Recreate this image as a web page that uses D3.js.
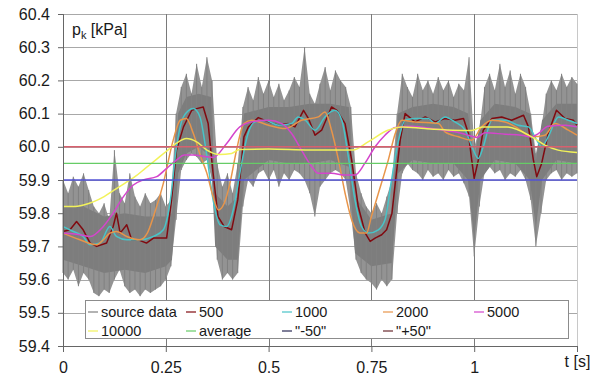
<!DOCTYPE html>
<html>
<head>
<meta charset="utf-8">
<script src="https://cdn.jsdelivr.net/npm/d3@7/dist/d3.min.js"></script>
<style>
  body { margin: 0; background: #fff; }
  text { font-family: Arial, "Liberation Sans", sans-serif; fill: #1a1a1a; }
</style>
</head>
<body>
<svg id="chart" width="603" height="383"></svg>
<script>
// source data: spike extremes, sampled every 0.0125 s
const tSource = d3.range(0, 101).map(i => i * 0.0125);
const srcHigh = [
  59.90, 59.86, 59.91, 59.88, 59.92, 59.87, 59.82, 59.80, 59.83, 59.78,
  59.99, 59.86, 59.83, 59.92, 59.85, 59.82, 59.86, 59.83, 59.84, 59.86,
  59.82, 59.84, 60.10, 60.18, 60.22, 60.16, 60.25, 60.18, 60.27, 60.20,
  59.95, 59.88, 59.92, 59.86, 59.95, 60.12, 60.18, 60.14, 60.21, 60.16,
  60.20, 60.15, 60.19, 60.14, 60.17, 60.21, 60.18, 60.30, 60.16, 60.13,
  60.19, 60.24, 60.17, 60.23, 60.20, 60.18, 60.12, 59.92, 59.86, 59.82,
  59.80, 59.83, 59.80, 59.85, 59.90, 60.10, 60.22, 60.18, 60.15, 60.22,
  60.17, 60.20, 60.16, 60.21, 60.17, 60.20, 60.15, 60.19, 60.17, 60.27,
  60.00, 60.05, 60.18, 60.22, 60.17, 60.25, 60.18, 60.23, 60.16, 60.22,
  60.18, 60.10, 59.98, 60.05, 60.16, 60.20, 60.17, 60.22, 60.18, 60.21, 60.19
];
const srcLow = [
  59.62, 59.60, 59.63, 59.58, 59.62, 59.60, 59.56, 59.55, 59.57, 59.56,
  59.60, 59.63, 59.58, 59.56, 59.57, 59.55, 59.57, 59.56, 59.57, 59.58,
  59.60, 59.64, 59.78, 59.93, 59.96, 59.98, 59.97, 59.95, 59.96, 59.90,
  59.66, 59.60, 59.62, 59.60, 59.62, 59.82, 59.90, 59.88, 59.92, 59.93,
  59.90, 59.93, 59.88, 59.92, 59.90, 59.93, 59.92, 59.90, 59.86, 59.79,
  59.88, 59.90, 59.92, 59.93, 59.92, 59.90, 59.80, 59.66, 59.62, 59.60,
  59.59, 59.57, 59.60, 59.58, 59.60, 59.80, 59.92, 59.95, 59.93, 59.92,
  59.90, 59.93, 59.91, 59.92, 59.90, 59.93, 59.91, 59.92, 59.89, 59.85,
  59.67, 59.82, 59.92, 59.94, 59.92, 59.93, 59.90, 59.92, 59.91, 59.93,
  59.90, 59.84, 59.70, 59.80, 59.90, 59.92, 59.93, 59.90, 59.92, 59.91, 59.92
];
// source data: dense band of the noise
const tCore = [0, 0.05, 0.1, 0.15, 0.2, 0.25, 0.265, 0.28, 0.3, 0.33,
  0.36, 0.37, 0.4, 0.425, 0.44, 0.5, 0.55, 0.6, 0.65, 0.695,
  0.71, 0.75, 0.8, 0.815, 0.85, 0.9, 0.95, 0.985, 1.0, 1.015,
  1.05, 1.1, 1.135, 1.15, 1.165, 1.2, 1.25];
const coreHigh = [59.82, 59.82, 59.79, 59.80, 59.79, 59.79, 59.80, 60.10, 60.15, 60.16,
  60.15, 59.86, 59.82, 59.85, 60.10, 60.12, 60.12, 60.13, 60.13, 60.12,
  59.85, 59.78, 59.80, 60.10, 60.12, 60.13, 60.12, 60.10, 59.96, 60.08,
  60.13, 60.12, 60.10, 59.96, 60.08, 60.13, 60.13];
const coreLow = [59.66, 59.64, 59.62, 59.63, 59.62, 59.64, 59.66, 59.92, 59.98, 60.0,
  59.97, 59.70, 59.66, 59.66, 59.90, 59.96, 59.95, 59.95, 59.96, 59.94,
  59.68, 59.64, 59.65, 59.92, 59.96, 59.95, 59.95, 59.90, 59.72, 59.90,
  59.96, 59.95, 59.90, 59.76, 59.90, 59.96, 59.95];

// moving averages
const t500 = [0, 0.017, 0.033, 0.049, 0.066, 0.082, 0.106, 0.122, 0.13, 0.139,
  0.155, 0.167, 0.183, 0.203, 0.22, 0.236, 0.252, 0.264, 0.276, 0.293,
  0.313, 0.325, 0.341, 0.353, 0.365, 0.377, 0.392, 0.41, 0.425, 0.44,
  0.451, 0.475, 0.5, 0.524, 0.548, 0.564, 0.585, 0.597, 0.613, 0.629,
  0.653, 0.666, 0.686, 0.702, 0.718, 0.735, 0.747, 0.759, 0.775, 0.787,
  0.8, 0.808, 0.82, 0.832, 0.856, 0.881, 0.905, 0.929, 0.953, 0.974,
  0.986, 0.994, 1.0, 1.01, 1.022, 1.043, 1.067, 1.091, 1.12, 1.132,
  1.144, 1.152, 1.164, 1.18, 1.2, 1.221, 1.241, 1.25];
const v500 = [59.745, 59.75, 59.775, 59.75, 59.71, 59.70, 59.71, 59.76, 59.80, 59.74,
  59.765, 59.72, 59.72, 59.71, 59.725, 59.725, 59.725, 59.84, 59.99, 60.06,
  60.11, 60.115, 60.12, 60.07, 59.92, 59.79, 59.76, 59.75, 59.84, 60.03,
  60.06, 60.088, 60.075, 60.065, 60.07, 60.06, 60.11, 60.085, 60.035, 60.05,
  60.12, 60.11, 60.07, 59.96, 59.82, 59.74, 59.715, 59.725, 59.735, 59.75,
  59.80, 59.89, 60.02, 60.10, 60.075, 60.09, 60.075, 60.085, 60.08, 60.085,
  60.04, 59.96, 59.905, 59.96, 60.05, 60.085, 60.09, 60.08, 60.095, 60.06,
  59.96, 59.91, 59.95, 60.04, 60.11, 60.085, 60.08, 60.065];

const t1000 = [0, 0.025, 0.049, 0.066, 0.09, 0.114, 0.13, 0.155, 0.187, 0.22,
  0.244, 0.26, 0.276, 0.293, 0.317, 0.333, 0.349, 0.365, 0.382, 0.398,
  0.414, 0.43, 0.45, 0.467, 0.491, 0.524, 0.556, 0.572, 0.589, 0.613,
  0.637, 0.661, 0.678, 0.694, 0.71, 0.726, 0.743, 0.767, 0.783, 0.799,
  0.816, 0.832, 0.856, 0.888, 0.905, 0.929, 0.953, 0.978, 0.998, 1.01,
  1.022, 1.043, 1.075, 1.107, 1.132, 1.152, 1.164, 1.18, 1.205, 1.229, 1.25];
const v1000 = [59.76, 59.745, 59.73, 59.705, 59.71, 59.76, 59.73, 59.72, 59.72, 59.73,
  59.75, 59.83, 60.0, 60.09, 60.115, 60.09, 59.98, 59.84, 59.765, 59.76,
  59.81, 59.92, 60.04, 60.075, 60.08, 60.065, 60.07, 60.09, 60.08, 60.05,
  60.09, 60.11, 60.08, 59.97, 59.84, 59.76, 59.74, 59.75, 59.78, 59.90,
  60.02, 60.08, 60.085, 60.085, 60.07, 60.09, 60.075, 60.05, 59.99, 59.965,
  60.0, 60.08, 60.08, 60.065, 60.06, 60.02, 60.0, 60.03, 60.09, 60.08, 60.07];

const t2000 = [0, 0.041, 0.082, 0.098, 0.114, 0.13, 0.155, 0.187, 0.205, 0.22,
  0.244, 0.268, 0.285, 0.3, 0.317, 0.335, 0.35, 0.365, 0.378, 0.392,
  0.406, 0.422, 0.44, 0.459, 0.5, 0.54, 0.58, 0.621, 0.637, 0.653,
  0.67, 0.686, 0.702, 0.722, 0.738, 0.75, 0.767, 0.791, 0.808, 0.824,
  0.856, 0.913, 0.929, 0.962, 0.994, 1.018, 1.043, 1.075, 1.107, 1.14,
  1.172, 1.196, 1.229, 1.25];
const v2000 = [59.74, 59.72, 59.705, 59.72, 59.74, 59.745, 59.73, 59.72, 59.74, 59.79,
  59.89, 60.02, 60.08, 60.085, 60.04, 59.97, 59.92, 59.85, 59.81, 59.83,
  59.89, 59.99, 60.07, 60.08, 60.065, 60.055, 60.08, 60.09, 60.105, 60.05,
  59.96, 59.86, 59.78, 59.74, 59.74, 59.79, 59.86, 59.96, 60.04, 60.08,
  60.075, 60.07, 60.045, 60.03, 60.02, 60.06, 60.08, 60.075, 60.055, 60.03,
  60.035, 60.07, 60.05, 60.035];

const t5000 = [0, 0.041, 0.066, 0.098, 0.122, 0.147, 0.171, 0.195, 0.228, 0.252,
  0.276, 0.295, 0.317, 0.349, 0.365, 0.398, 0.43, 0.467, 0.5, 0.532,
  0.556, 0.58, 0.605, 0.621, 0.653, 0.686, 0.71, 0.734, 0.759, 0.783,
  0.808, 0.848, 0.913, 0.953, 0.994, 1.006, 1.026, 1.075, 1.115, 1.14,
  1.156, 1.18, 1.221, 1.25];
const v5000 = [59.74, 59.735, 59.73, 59.76, 59.80, 59.85, 59.885, 59.90, 59.91, 59.935,
  59.96, 59.975, 59.975, 59.97, 59.968, 60.01, 60.06, 60.077, 60.08, 60.07,
  60.04, 59.99, 59.94, 59.92, 59.92, 59.915, 59.915, 59.95, 60.0, 60.035,
  60.058, 60.062, 60.052, 60.045, 60.032, 60.028, 60.042, 60.038, 60.035, 60.03,
  60.04, 60.062, 60.065, 60.06];

const t10000 = [0, 0.025, 0.05, 0.075, 0.1, 0.125, 0.15, 0.175, 0.2, 0.225,
  0.25, 0.275, 0.3, 0.325, 0.35, 0.38, 0.41, 0.43, 0.5, 0.6,
  0.705, 0.742, 0.79, 0.824, 0.88, 0.994, 1.02, 1.08, 1.14, 1.172, 1.204, 1.25];
const v10000 = [59.82, 59.82, 59.825, 59.835, 59.85, 59.87, 59.89, 59.91, 59.935, 59.96,
  59.985, 60.01, 60.025, 60.015, 59.99, 59.977, 59.98, 59.992, 59.993, 59.99,
  59.99, 60.015, 60.05, 60.06, 60.055, 60.049, 60.06, 60.06, 60.03, 60.005, 59.99, 59.983];

// constant reference levels
const average = 59.95;
const minus50 = 59.90;
const plus50 = 60.00;

const yTicks = [59.4, 59.5, 59.6, 59.7, 59.8, 59.9, 60.0, 60.1, 60.2, 60.3, 60.4];
const xTicks = [0, 0.25, 0.5, 0.75, 1, 1.25];
const xTickLabels = ['0', '0.25', '0.5', '0.75', '1', 't [s]'];

const legendNames = ['source data', '500', '1000', '2000', '5000', '10000', 'average', '"-50"', '"+50"'];
const colors = {
  src: '#808080',
  s500: '#800a10',
  s1000: '#48c4c8',
  s2000: '#e8954a',
  s5000: '#d445cc',
  s10000: '#f2f25a',
  average: '#66cc66',
  minus50: '#5252d6',
  plus50: '#d8606e'
};

const margin = { top: 14, right: 26, bottom: 37, left: 63 };
const width = 603 - margin.left - margin.right;
const height = 383 - margin.top - margin.bottom;

const svg = d3.select('#chart')
  .append('g')
  .attr('transform', `translate(${margin.left},${margin.top})`);

const x = d3.scaleLinear().domain([0, 1.25]).range([0, width]);
const y = d3.scaleLinear().domain([59.4, 60.4]).range([height, 0]);

// grid
svg.append('g')
  .selectAll('line')
  .data(yTicks)
  .enter()
  .append('line')
  .attr('x1', 0).attr('x2', width)
  .attr('y1', d => Math.round(y(d)) + 0.5).attr('y2', d => Math.round(y(d)) + 0.5)
  .attr('stroke', '#a8a8a8');

svg.append('g')
  .selectAll('line')
  .data(xTicks)
  .enter()
  .append('line')
  .attr('x1', d => Math.round(x(d)) + 0.5).attr('x2', d => Math.round(x(d)) + 0.5)
  .attr('y1', 0).attr('y2', height)
  .attr('stroke', d => d === 1.25 ? '#c8c8c8' : '#7a7a7a');

// source data: spiky envelope (lighter) + dense band (darker)
const spikes = tSource.map((t, i) => ({ t, hi: srcHigh[i], lo: srcLow[i] }));
svg.append('path')
  .datum(spikes)
  .attr('fill', '#939393')
  .attr('d', d3.area().x(d => x(d.t)).y0(d => y(d.lo)).y1(d => y(d.hi)));

const core = tCore.map((t, i) => ({ t, hi: coreHigh[i], lo: coreLow[i] }));
svg.append('path')
  .datum(core)
  .attr('fill', '#7d7d7d')
  .attr('d', d3.area().x(d => x(d.t)).y0(d => y(d.lo)).y1(d => y(d.hi)));

svg.append('g')
  .selectAll('line')
  .data(spikes)
  .enter()
  .append('line')
  .attr('x1', d => x(d.t)).attr('x2', d => x(d.t))
  .attr('y1', d => y(d.lo)).attr('y2', d => y(d.hi))
  .attr('stroke', '#808080')
  .attr('stroke-width', 1);

const series = [
  { t: t500, v: v500, color: colors.s500, curve: d3.curveLinear },
  { t: t1000, v: v1000, color: colors.s1000, curve: d3.curveMonotoneX },
  { t: t2000, v: v2000, color: colors.s2000, curve: d3.curveMonotoneX },
  { t: t5000, v: v5000, color: colors.s5000, curve: d3.curveMonotoneX },
  { t: t10000, v: v10000, color: colors.s10000, curve: d3.curveMonotoneX }
];

series.forEach(s => {
  const pts = s.t.map((t, i) => [t, s.v[i]]);
  svg.append('path')
    .datum(pts)
    .attr('fill', 'none')
    .attr('stroke', s.color)
    .attr('stroke-width', 1.5)
    .attr('stroke-linejoin', 'round')
    .attr('d', d3.line().x(d => x(d[0])).y(d => y(d[1])).curve(s.curve));
});

[[average, colors.average], [minus50, colors.minus50], [plus50, colors.plus50]].forEach(([v, c]) => {
  svg.append('line')
    .attr('x1', 0).attr('x2', width)
    .attr('y1', y(v)).attr('y2', y(v))
    .attr('stroke', c)
    .attr('stroke-width', 1.4);
});

// axes
const yAxis = svg.append('g')
  .call(d3.axisLeft(y).tickValues(yTicks).tickFormat(d3.format('.1f')).tickSize(5).tickPadding(8));
const xAxis = svg.append('g')
  .attr('transform', `translate(0,${height})`)
  .call(d3.axisBottom(x).tickValues(xTicks).tickFormat((d, i) => xTickLabels[i]).tickSize(6).tickPadding(10));

[yAxis, xAxis].forEach(a => {
  a.selectAll('path').attr('stroke', '#666');
  a.selectAll('line').attr('stroke', '#666');
  a.selectAll('text').style('font-size', '16px').attr('fill', '#1a1a1a');
});
xAxis.selectAll('text').filter((d, i) => i === xTicks.length - 1).attr('y', 10);

// y label
const yl = svg.append('text')
  .attr('x', 9)
  .attr('y', 21)
  .style('font-size', '16px');
yl.append('tspan').text('p');
yl.append('tspan').attr('dy', 4).style('font-size', '11px').text('k');
yl.append('tspan').attr('dy', -4).text(' [kPa]');

// legend
const legendColors = [colors.src, colors.s500, colors.s1000, colors.s2000, colors.s5000,
  colors.s10000, colors.average, '#2a2a55', '#6a2a30'];
const colX = [25, 123, 219, 320, 411];
const rowY = [298, 317];

const legend = svg.append('g');
legend.append('rect')
  .attr('x', 22.5).attr('y', 286.5)
  .attr('width', 483).attr('height', 38)
  .attr('fill', '#fff')
  .attr('stroke', '#8c8c8c');

legendNames.forEach((name, i) => {
  const cx = colX[i % 5];
  const cy = rowY[Math.floor(i / 5)];
  legend.append('line')
    .attr('x1', cx).attr('x2', cx + 10)
    .attr('y1', cy).attr('y2', cy)
    .attr('stroke', legendColors[i])
    .attr('stroke-width', 1.2);
  legend.append('text')
    .attr('x', cx + 13)
    .attr('y', cy)
    .attr('dy', '0.35em')
    .style('font-size', '14.5px')
    .text(name);
});
</script>
</body>
</html>
